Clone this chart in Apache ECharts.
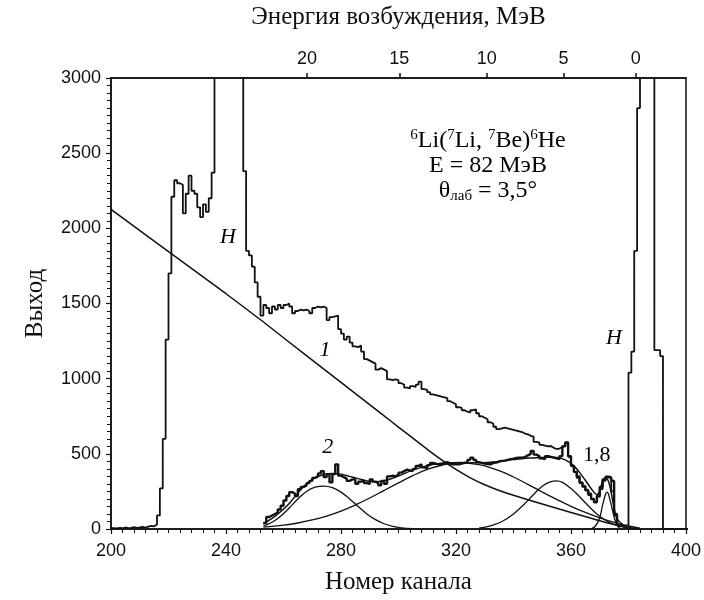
<!DOCTYPE html>
<html><head><meta charset="utf-8">
<script src="https://cdn.jsdelivr.net/npm/echarts@6/dist/echarts.min.js"></script>
<style>html,body{margin:0;background:#fff}#chart{width:704px;height:600px}</style>
</head><body><div id="chart"></div>
<script>
// Raw spectrum, one value per channel starting at channel 200 (off-scale H peaks go above 3000)
const spectrumStart = 200;
const spectrumCounts = [
  6,4,8,5,10,6,8,12,7,10,14,9,16,20,18,          // 200-214
  30,90,270,600,1260,1700,2210,2320,2300,2290,   // 215-224
  2100,2230,2350,2250,2230,2140,2075,2160,2110,2200, // 225-234
  2370,3500,3500,3500,3500,3500,3500,3500,3500,3500, // 235-244
  3500,2380,1850,1820,1745,1640,1545,1420,1490,1470, // 245-254
  1435,1480,1460,1490,1470,1490,1500,1480,1435,1450, // 255-264
  1460,1455,1460,1450,1435,1470,1480,1475,1480,1470, // 265-274
  1390,1410,1415,1420,1330,1300,1260,1280,1240,1215, // 275-284
  1210,1220,1180,1130,1120,1110,1100,1060,1070,1060, // 285-294
  1050,995,990,995,990,970,960,940,935,950,          // 295-304
  945,960,980,930,925,910,895,890,885,880,           // 305-314
  875,870,850,840,830,810,805,790,780,775,           // 315-324
  790,795,770,750,740,730,710,700,680,665,           // 325-334
  670,675,670,665,660,655,650,645,635,630,           // 335-344
  620,615,580,575,560,555,550,552,540,532,           // 345-354
  535,545,555,575,480,420,380,340,305,280,           // 355-364
  255,225,200,180,215,265,320,350,345,250,           // 365-374
  90,25,20,22,25,1040,1180,1850,2800,3500,           // 375-384
  3500,3500,3500,3500,1190,1190,1150,0,0,0,          // 385-394
  0,0,0,0,0,0,0                                      // 395-400
];

// Background-subtracted spectrum, one value per channel starting at channel 253
const subtractedStart = 253;
const subtractedCounts = [
  40,80,90,100,110,130,155,190,220,245,        // 253-262
  235,220,265,280,290,305,320,340,350,370,     // 263-272
  385,345,365,310,365,430,355,345,335,320,     // 273-282
  330,330,300,315,320,305,300,330,315,305,     // 283-292
  290,320,300,350,355,350,360,375,385,395,     // 293-302
  390,385,400,420,430,410,405,425,440,435,     // 303-312
  430,430,440,445,435,430,430,430,435,440,     // 313-322
  445,460,475,460,445,440,435,432,430,440,     // 323-332
  442,448,453,455,460,465,468,472,475,475,     // 333-342
  478,490,500,520,495,485,470,465,485,480,     // 343-352
  475,470,465,485,550,575,485,420,380,350,     // 353-362
  310,285,260,235,200,178,220,280,330,345,     // 363-372
  340,320,100,20                               // 373-376
];

// Background curve "1"
const backgroundCurve = [
  [200,2126],[220,1845],[240,1565],[252,1392],[260,1272],[280,975],[295,752],
  [300,678],[305,604],[310,530],[315,460],[320,396],[325,340],[330,294],
  [335,256],[340,224],[350,166],[360,110],[370,55],[378,17],[384,0]
];

// Fitted peak components
const peakA = [
  [253,20],[256,45],[259,85],[262,140],[265,200],[268,250],[271,278],[274,285],
  [277,275],[280,245],[283,200],[286,150],[289,100],[292,62],[295,35],[298,18],[301,8],[305,2]
];
const peakB = [
  [253,13],[260,26],[265,40],[270,60],[275,86],[280,119],[285,160],[290,206],
  [295,257],[300,307],[305,355],[310,396],[315,424],[321,440],[328,428],[335,388],
  [340,346],[345,297],[350,246],[355,197],[360,151],[365,110],[370,74],[375,44],
  [380,20],[384,6]
];
const peakC = [
  [328,6],[332,20],[336,50],[340,100],[344,170],[347,230],[350,285],[353,315],
  [355,320],[357,310],[360,270],[363,215],[366,155],[369,100],[372,58],[375,30],[378,14],[381,5]
];
const peakD = [
  [367,0],[368.5,20],[370,75],[371,160],[372,230],[372.5,245],[373,235],[374,160],
  [375,80],[376,25],[377,5]
];
// Sum of the fitted components, curve "2"
const fitSum = [
  [253,35],[256,70],[259,115],[262,170],[265,240],[268,300],[271,340],[274,362],
  [277,370],[280,365],[283,350],[286,335],[289,320],[292,315],[295,322],[298,338],
  [301,360],[304,385],[307,405],[310,420],[313,432],[316,438],[319,441],[322,442],
  [325,440],[328,440],[331,442],[334,448],[337,455],[340,462],[343,468],[346,472],
  [349,475],[352,478],[355,476],[358,460],[361,420],[364,350],[367,270],[369,230],
  [370,250],[371,320],[372,340],[373,320],[374,240],[375,140],[376,70],[378,30]
];

// Excitation energy scale (top axis): channel positions and their labels in MeV
const energyChannels = [268.2, 300.3, 330.7, 357.4, 382.5];
const energyLabels = ['20', '15', '10', '5', '0'];

// In-plot marks: text, position [channel, counts], italic or upright
const markerText = ['H', 'H', '1', '2', '1,8'];
const markerPos = [[240.7,1940],[374.9,1272],[274.4,1192],[275.4,543],[369,490]];
const markerItalic = [true, true, true, true, false];

// Reaction annotation lines
const reactionLines = [
  '{sup|6}Li({sup|7}Li, {sup|7}Be){sup|6}He',
  'E = 82 МэВ',
  'θ{sub|лаб} = 3,5°'
];

const toPairs = (start, arr) => arr.map((v, i) => [start + i, v]);

const SANS = 'Liberation Sans';
const SERIF = 'Liberation Serif';
const INK = '#111';

const chart = echarts.init(document.getElementById('chart'), null, {renderer: 'canvas'});

const lineSeries = (data, width, extra) => Object.assign({
  type: 'line', data, symbol: 'none', xAxisIndex: 0, yAxisIndex: 0,
  lineStyle: {color: INK, width}, silent: true, z: 3
}, extra || {});

chart.setOption({
  animation: false,
  backgroundColor: '#fff',
  grid: {left: 111, right: 16.5, top: 77, bottom: 70, show: true,
         borderColor: INK, borderWidth: 1.5, backgroundColor: 'transparent'},
  xAxis: [{
    type: 'value', min: 200, max: 400, interval: 40, position: 'bottom',
    name: 'Номер канала', nameLocation: 'middle', nameGap: 41,
    nameTextStyle: {fontFamily: SERIF, fontSize: 25, color: INK},
    axisLine: {onZero: false, lineStyle: {color: INK, width: 1.5}},
    axisTick: {show: true, length: 5, lineStyle: {color: INK, width: 1.2}},
    minorTick: {show: true, splitNumber: 10, length: 4, lineStyle: {color: INK, width: 1}},
    axisLabel: {fontFamily: SANS, fontSize: 18, color: INK, margin: 13},
    splitLine: {show: false}
  }, {
    type: 'value', min: 200, max: 400, position: 'top',
    name: 'Энергия возбуждения, МэВ', nameLocation: 'middle', nameGap: 48,
    nameTextStyle: {fontFamily: SERIF, fontSize: 25, color: INK},
    axisLine: {onZero: false, lineStyle: {color: INK, width: 1.5}},
    axisTick: {show: true, inside: false, length: 5, customValues: energyChannels,
               lineStyle: {color: INK, width: 1.5}},
    axisLabel: {fontFamily: SANS, fontSize: 18, color: INK, margin: 10,
                customValues: energyChannels,
                formatter: v => {
                  const i = energyChannels.findIndex(c => Math.abs(c - v) < 1e-6);
                  return i >= 0 ? energyLabels[i] : '';
                }},
    splitLine: {show: false}
  }],
  yAxis: [{
    type: 'value', min: 0, max: 3000, interval: 500,
    name: 'Выход', nameLocation: 'middle', nameGap: 63, nameRotate: 90,
    nameTextStyle: {fontFamily: SERIF, fontSize: 25, color: INK},
    axisLine: {show: true, onZero: false, lineStyle: {color: INK, width: 1.5}},
    axisTick: {show: true, length: 5, lineStyle: {color: INK, width: 1.2}},
    minorTick: {show: true, splitNumber: 10, length: 4, lineStyle: {color: INK, width: 1}},
    axisLabel: {fontFamily: SANS, fontSize: 18, color: INK, margin: 10,
                formatter: v => String(v)},
    splitLine: {show: false}
  }],
  series: [
    lineSeries(toPairs(spectrumStart, spectrumCounts), 1.8, {step: 'end'}),
    lineSeries(toPairs(subtractedStart, subtractedCounts), 2.4, {step: 'end'}),
    lineSeries(backgroundCurve, 1.5, {smooth: 0.3}),
    lineSeries(peakA, 1.3, {smooth: 0.4}),
    lineSeries(peakB, 1.3, {smooth: 0.4}),
    lineSeries(peakC, 1.3, {smooth: 0.4}),
    lineSeries(peakD, 1.3, {smooth: 0.3}),
    lineSeries(fitSum, 1.5, {smooth: 0.4}),
    {
      type: 'scatter', symbolSize: 0, silent: true, z: 5,
      itemStyle: {opacity: 1},
      data: markerPos.map((p, i) => ({
        value: p, name: markerText[i],
        label: {fontStyle: markerItalic[i] ? 'italic' : 'normal'}
      })),
      label: {show: true, position: 'inside', formatter: p => p.name,
              fontFamily: SERIF, fontSize: 22, color: '#000', opacity: 1}
    }
  ],
  graphic: reactionLines.map((t, i) => ({
    type: 'text', x: 488, y: 141 + i * 25, z: 10,
    style: {
      text: t, align: 'center', verticalAlign: 'middle',
      fontFamily: SERIF, fontSize: 24, fill: '#000',
      rich: {
        sup: {fontFamily: SERIF, fontSize: 15, fill: '#000', verticalAlign: 'top', lineHeight: 26},
        sub: {fontFamily: SERIF, fontSize: 15, fill: '#000', verticalAlign: 'bottom', lineHeight: 26}
      }
    }
  }))
});
</script>
</body></html>
